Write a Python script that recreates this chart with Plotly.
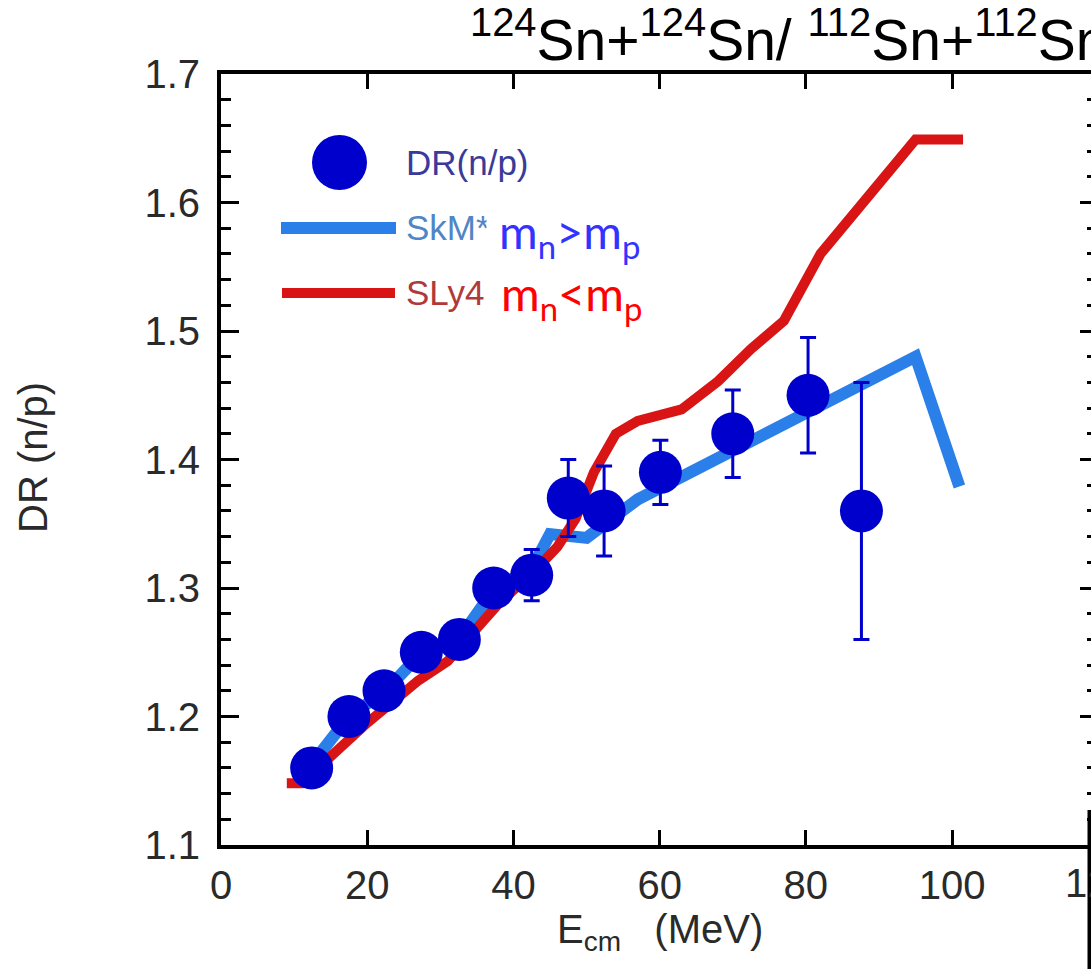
import plotly.graph_objects as go

# ---------------- data ----------------
exp_x = [12.4, 17.5, 22.3, 27.4, 32.6, 37.3, 42.5, 47.5, 52.4, 60.1, 70.0, 80.3, 87.6]
exp_y = [1.16, 1.20, 1.22, 1.25, 1.26, 1.30, 1.31, 1.37, 1.36, 1.39, 1.42, 1.45, 1.36]
exp_err = [0.01, 0.01, 0.01, 0.01, 0.01, 0.01, 0.02, 0.03, 0.035, 0.025, 0.034, 0.045, 0.10]

skm_x = [12.0, 17.5, 22.5, 27.5, 32.5, 37.5, 42.5, 45.0, 50.0, 57.0, 95.0, 101.0]
skm_y = [1.16, 1.20, 1.22, 1.25, 1.26, 1.30, 1.315, 1.342, 1.339, 1.369, 1.480, 1.379]

sly_x = [9.0, 11.0, 20.0, 27.0, 31.0, 38.0, 43.0, 46.0, 48.5, 51.0, 54.0, 57.0,
         63.0, 68.0, 72.5, 77.0, 82.0, 88.0, 95.0, 101.5]
sly_y = [1.148, 1.148, 1.195, 1.228, 1.243, 1.288, 1.314, 1.332, 1.354, 1.39, 1.42, 1.430,
         1.439, 1.461, 1.486, 1.508, 1.560, 1.600, 1.649, 1.649]

x_ticks = [0, 20, 40, 60, 80, 100]
y_ticks = [1.1, 1.2, 1.3, 1.4, 1.5, 1.6, 1.7]

# ---------------- layout helpers ----------------
W, H = 1091, 969
L, R, T, B = 221, 0, 74, 124
PW, PH = W - L - R, H - T - B


def px_x(px):
    return (px - L) / PW


def px_y(py):
    return (H - B - py) / PH


DOT = "#0000CC"
BLUE = "#2B7FE8"
RED = "#D81414"
TXT = "#2a2a2a"

fig = go.Figure()

fig.add_trace(go.Scatter(x=skm_x, y=skm_y, mode="lines",
                         line=dict(color=BLUE, width=12), showlegend=False))
fig.add_trace(go.Scatter(x=sly_x, y=sly_y, mode="lines",
                         line=dict(color=RED, width=10), showlegend=False))
fig.add_trace(go.Scatter(x=exp_x, y=exp_y, mode="markers",
                         marker=dict(color=DOT, size=43, line=dict(width=0)),
                         error_y=dict(type="data", array=exp_err, color=DOT,
                                      thickness=3, width=8),
                         showlegend=False))
# invisible copy on the right-hand (mirror) axis so that its ticks are drawn
fig.add_trace(go.Scatter(x=exp_x, y=exp_y, yaxis="y2", mode="markers",
                         marker=dict(opacity=0), hoverinfo="skip", showlegend=False))

fig.update_layout(
    width=W, height=H,
    margin=dict(l=L, r=R, t=T, b=B, pad=0),
    paper_bgcolor="white", plot_bgcolor="white",
    font=dict(family="Liberation Sans, Arial, sans-serif", color=TXT),
    xaxis=dict(range=[0, 119.0], tickvals=x_ticks, ticks="inside", ticklen=15,
               tickwidth=3, tickcolor="black", showline=True, linewidth=4,
               linecolor="black", mirror="ticks", showgrid=False, zeroline=False,
               tickfont=dict(size=40, color=TXT), ticklabelstandoff=2),
    yaxis=dict(range=[1.1, 1.7], tickvals=y_ticks, ticks="inside", ticklen=18,
               tickwidth=3, tickcolor="black", showline=True, linewidth=4,
               linecolor="black", mirror=False, showgrid=False, zeroline=False,
               tickformat=".1f", tickfont=dict(size=40, color=TXT),
               ticklabelstandoff=9,
               minor=dict(dtick=0.02, tick0=1.1, ticks="inside", ticklen=10,
                          tickwidth=3, tickcolor="black", showgrid=False)),
    yaxis2=dict(range=[1.1, 1.7], overlaying="y", side="right", tickvals=y_ticks,
                ticks="inside", ticklen=11, tickwidth=3, tickcolor="black",
                showticklabels=False, showline=False, showgrid=False, zeroline=False,
                minor=dict(dtick=0.02, tick0=1.1, ticks="inside", ticklen=4,
                           tickwidth=3, tickcolor="black", showgrid=False)),
)

shapes = [
    # legend glyphs
    dict(type="circle", xref="paper", yref="paper",
         x0=px_x(312), x1=px_x(367), y0=px_y(190), y1=px_y(135),
         fillcolor=DOT, line=dict(width=0)),
    dict(type="line", xref="paper", yref="paper",
         x0=px_x(281), x1=px_x(396), y0=px_y(228), y1=px_y(228),
         line=dict(color=BLUE, width=12)),
    dict(type="line", xref="paper", yref="paper",
         x0=px_x(282), x1=px_x(395), y0=px_y(293), y1=px_y(293),
         line=dict(color=RED, width=10)),
    # stray frame edge at bottom right
    dict(type="line", xref="paper", yref="paper",
         x0=px_x(1089.5), x1=px_x(1089.5), y0=px_y(810), y1=px_y(969),
         line=dict(color="black", width=4)),
]
fig.update_layout(shapes=shapes)

ann = [
    dict(text="DR(n/p)", x=px_x(404), y=px_y(162), xanchor="left", yanchor="middle",
         font=dict(size=35, color="#3a3a9a")),
    dict(text="SkM*", x=px_x(404), y=px_y(228), xanchor="left", yanchor="middle",
         font=dict(size=35, color="#5086c6")),
    dict(text="SLy4", x=px_x(404), y=px_y(292), xanchor="left", yanchor="middle",
         font=dict(size=35, color="#b03a3a")),
    dict(text="&nbsp;m<sub>n</sub>&gt;m<sub>p</sub>", x=px_x(486), y=px_y(234),
         xanchor="left", yanchor="middle", bgcolor="white", borderpad=0,
         font=dict(size=47, color="#3333FF", family="Lato, sans-serif")),
    dict(text="m<sub>n</sub>&lt;m<sub>p</sub>", x=px_x(499), y=px_y(296),
         xanchor="left", yanchor="middle",
         font=dict(size=47, color="#FF0000", family="Lato, sans-serif")),
    # title
    dict(text="<sup>124</sup>Sn+<sup>124</sup>Sn/ <sup>112</sup>Sn+<sup>112</sup>Sn",
         x=px_x(468), y=px_y(36), xanchor="left", yanchor="middle",
         font=dict(size=57, color="black")),
    # axis titles
    dict(text="E<sub>cm</sub>&nbsp;&nbsp; (MeV)", x=px_x(660), y=px_y(932),
         xanchor="center", yanchor="middle", font=dict(size=40, color=TXT)),
    dict(text="DR (n/p)", x=px_x(33), y=px_y(458), xanchor="center", yanchor="middle",
         textangle=-90, font=dict(size=40, color=TXT)),
    # partially visible 120 tick label
    dict(text="120", x=px_x(1098), y=px_y(883), xanchor="center", yanchor="middle",
         font=dict(size=40, color=TXT)),
]
for a in ann:
    a.update(xref="paper", yref="paper", showarrow=False)
fig.update_layout(annotations=ann)

fig.write_html("out.html")
